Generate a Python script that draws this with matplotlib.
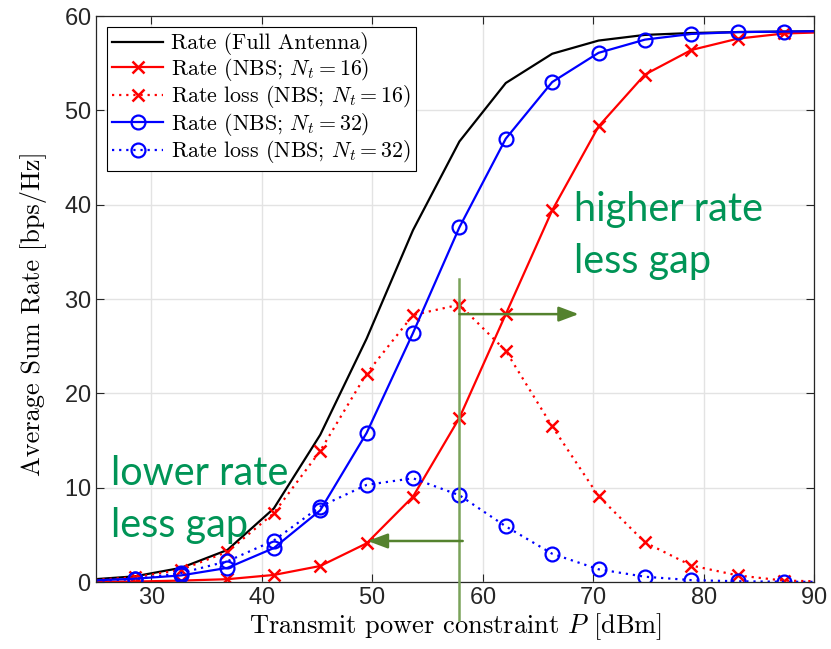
import matplotlib
matplotlib.use('Agg')

import matplotlib.pyplot as plt
import numpy as np

plt.rcParams['mathtext.fontset'] = 'cm'
plt.rcParams['axes.formatter.use_mathtext'] = True

# Transmit power points (dBm), one beyond each side of the axes so the
# curves run to the frame edges.
power = [24.3, 28.5, 32.7, 36.9, 41.1, 45.3, 49.5, 53.7, 57.9, 62.1,
         66.3, 70.5, 74.7, 78.9, 83.1, 87.3, 91.5]

rate_full = [0.25, 0.6, 1.5, 3.4, 7.8, 15.6, 25.8, 37.3, 46.7, 52.9,
             56.0, 57.4, 58.0, 58.2, 58.3, 58.35, 58.4]
rate_16 = [0.02, 0.05, 0.15, 0.3, 0.75, 1.7, 4.1, 9.05, 17.4, 28.4,
           39.4, 48.3, 53.8, 56.4, 57.6, 58.15, 58.3]
loss_16 = [0.2, 0.5, 1.3, 3.2, 7.3, 13.9, 22.1, 28.3, 29.4, 24.5,
           16.5, 9.1, 4.2, 1.75, 0.7, 0.15, 0.05]
rate_32 = [0.15, 0.35, 0.7, 1.5, 3.6, 7.6, 15.8, 26.4, 37.6, 47.0,
           53.0, 56.1, 57.5, 58.1, 58.3, 58.35, 58.4]
loss_32 = [0.1, 0.3, 0.95, 2.2, 4.4, 8.0, 10.3, 11.0, 9.2, 5.9,
           3.0, 1.35, 0.56, 0.2, 0.08, 0.03, 0.01]

x_ticks = [30, 40, 50, 60, 70, 80, 90]
y_ticks = [0, 10, 20, 30, 40, 50, 60]

# Annotation anchor points (dBm, bps/Hz)
marker_power = 57.9
right_arrow = (57.9, 28.4, 68.7)
left_arrow = (58.2, 4.35, 49.6)

fig = plt.figure(figsize=(8.31, 6.49), dpi=100)
ax = fig.add_axes([0.1155, 0.1032, 0.8640, 0.8721])

lw = 1.6
ax.plot(power, rate_full, color='black', linewidth=lw,
        label='Rate (Full Antenna)')
ax.plot(power, rate_16, color='red', linewidth=lw, marker='x',
        markersize=8, markeredgewidth=1.8, label='Rate (NBS; $N_t = 16$)')
ax.plot(power, loss_16, color='red', linewidth=lw, linestyle=(0, (1, 2.2)),
        marker='x', markersize=8, markeredgewidth=1.8,
        label='Rate loss (NBS; $N_t = 16$)')
ax.plot(power, rate_32, color='blue', linewidth=lw, marker='o',
        markersize=10, markerfacecolor='none', markeredgewidth=1.6,
        label='Rate (NBS; $N_t = 32$)')
ax.plot(power, loss_32, color='blue', linewidth=lw, linestyle=(0, (1, 2.2)),
        marker='o', markersize=10, markerfacecolor='none',
        markeredgewidth=1.6, label='Rate loss (NBS; $N_t = 32$)')

ax.set_xlim(25, 90)
ax.set_ylim(0, 60)
ax.set_xticks(x_ticks)
ax.set_yticks(y_ticks)
ax.grid(True, color='#e3e3e3', linewidth=1.0)
ax.set_axisbelow(True)
ax.tick_params(direction='in', top=True, right=True, length=6,
               labelsize=17, colors='#262626', width=0.8)
for lab in ax.get_xticklabels() + ax.get_yticklabels():
    lab.set_fontfamily('Liberation Sans')
for sp in ax.spines.values():
    sp.set_color('#262626')
    sp.set_linewidth(0.9)

ax.set_xlabel('Transmit power constraint $P$ [dBm]', fontfamily='cmr10',
              fontsize=19, labelpad=2)
ax.set_ylabel('Average Sum Rate [bps/Hz]', fontfamily='cmr10', fontsize=19)
ax.yaxis.set_label_coords(-0.068, 0.475)

leg = ax.legend(loc='upper left', prop={'family': 'cmr10', 'size': 15.8},
                handlelength=2.3, handletextpad=0.35, labelspacing=0.02,
                borderpad=0.25, borderaxespad=0.5, fancybox=False,
                framealpha=1.0, edgecolor='black')
leg.get_frame().set_linewidth(0.8)

# Green guide lines and arrows
line_green = '#7aa35a'
head_green = '#54822e'
ax.plot([marker_power, marker_power], [32.1, -4.0], color=line_green,
        linewidth=1.8, clip_on=False, zorder=6)
x0, y0, x1 = right_arrow
ax.annotate('', xy=(x1, y0), xytext=(x0, y0),
            arrowprops=dict(arrowstyle='-|>,head_length=1.2,head_width=0.45',
                            color=line_green, lw=1.8, shrinkA=0, shrinkB=0,
                            fc=head_green, ec=head_green), zorder=6)
x0, y0, x1 = left_arrow
ax.annotate('', xy=(x1, y0), xytext=(x0, y0),
            arrowprops=dict(arrowstyle='-|>,head_length=1.2,head_width=0.45',
                            color=line_green, lw=1.8, shrinkA=0, shrinkB=0,
                            fc=head_green, ec=head_green), zorder=6)

text_green = '#009456'
ax.text(68.3, 32.8, 'higher rate\nless gap', color=text_green,
        fontfamily='Lato', fontsize=28.5, ha='left', va='baseline',
        linespacing=1.5, zorder=7)
ax.text(26.4, 4.8, 'lower rate\nless gap', color=text_green,
        fontfamily='Lato', fontsize=28.5, ha='left', va='baseline',
        linespacing=1.5, zorder=7)

plt.savefig('out.png', dpi=100)
plt.close(fig)
